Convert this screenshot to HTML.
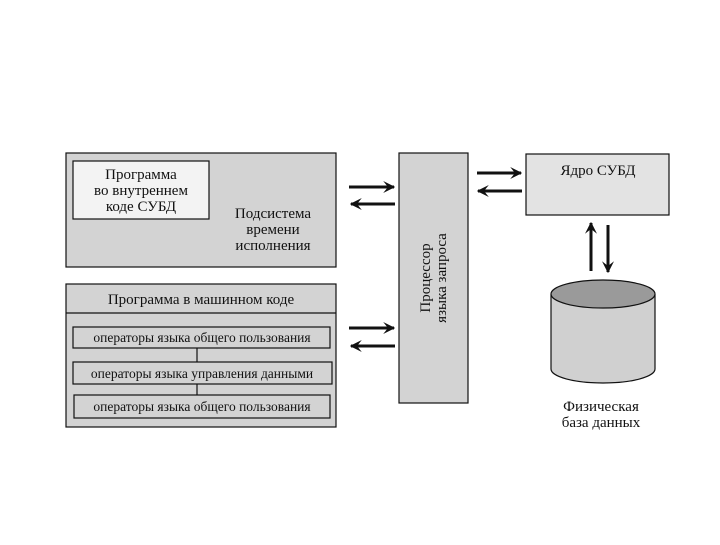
<!DOCTYPE html>
<html><head><meta charset="utf-8"><style>
body{margin:0;background:#fff}
svg text{font-family:"Liberation Serif",serif;fill:#111}
</style></head><body>
<svg width="720" height="540" viewBox="0 0 720 540" xmlns="http://www.w3.org/2000/svg">
<defs><marker id="a" viewBox="0 0 10 10" refX="9" refY="5" markerWidth="4" markerHeight="4" orient="auto-start-reverse"><path d="M0,0 L10,5 L0,10 L4,5z" fill="#111"/></marker></defs>
<g stroke="#111" stroke-width="1.2">
<rect x="66" y="153" width="270" height="114" fill="#d3d3d3"/>
<rect x="73" y="161" width="136" height="58" fill="#f3f3f3"/>
<rect x="66" y="284" width="270" height="143" fill="#d3d3d3"/>
<line x1="66" y1="313" x2="336" y2="313"/>
<rect x="73" y="327" width="257" height="21" fill="#d3d3d3"/>
<rect x="73" y="362" width="259" height="22" fill="#d3d3d3"/>
<rect x="74" y="395" width="256" height="23" fill="#d3d3d3"/>
<line x1="197" y1="348" x2="197" y2="362"/>
<line x1="197" y1="384" x2="197" y2="395"/>
<rect x="399" y="153" width="69" height="250" fill="#d3d3d3"/>
<rect x="526" y="154" width="143" height="61" fill="#e3e3e3"/>
</g>
<g stroke="#111" stroke-width="3" fill="none" marker-end="url(#a)">
<line x1="349" y1="187" x2="394" y2="187"/>
<line x1="395" y1="204" x2="351" y2="204"/>
<line x1="349" y1="328" x2="394" y2="328"/>
<line x1="395" y1="346" x2="351" y2="346"/>
<line x1="477" y1="173" x2="521" y2="173"/>
<line x1="522" y1="191" x2="478" y2="191"/>
<line x1="591" y1="271" x2="591" y2="223"/>
<line x1="608" y1="225" x2="608" y2="272"/>
</g>
<path d="M551,294 L551,369 A52,14 0 0 0 655,369 L655,294" fill="#d0d0d0" stroke="#111" stroke-width="1.2"/>
<ellipse cx="603" cy="294" rx="52" ry="14" fill="#9a9a9a" stroke="#111" stroke-width="1.2"/>
<g font-size="15" text-anchor="middle">
<text x="141" y="179">Программа</text>
<text x="141" y="195">во внутреннем</text>
<text x="141" y="211">коде СУБД</text>
<text x="273" y="218">Подсистема</text>
<text x="273" y="234">времени</text>
<text x="273" y="250">исполнения</text>
<text x="201" y="304">Программа в машинном коде</text>
<text x="598" y="175">Ядро СУБД</text>
<text x="601" y="411">Физическая</text>
<text x="601" y="427">база данных</text>
</g>
<g font-size="13.5" text-anchor="middle">
<text x="202" y="342">операторы языка общего пользования</text>
<text x="202" y="378">операторы языка управления данными</text>
<text x="202" y="411">операторы языка общего пользования</text>
</g>
<g font-size="15" text-anchor="middle" transform="translate(433,278) rotate(-90)">
<text x="0" y="-3">Процессор</text>
<text x="0" y="13">языка запроса</text>
</g>
</svg>
</body></html>
